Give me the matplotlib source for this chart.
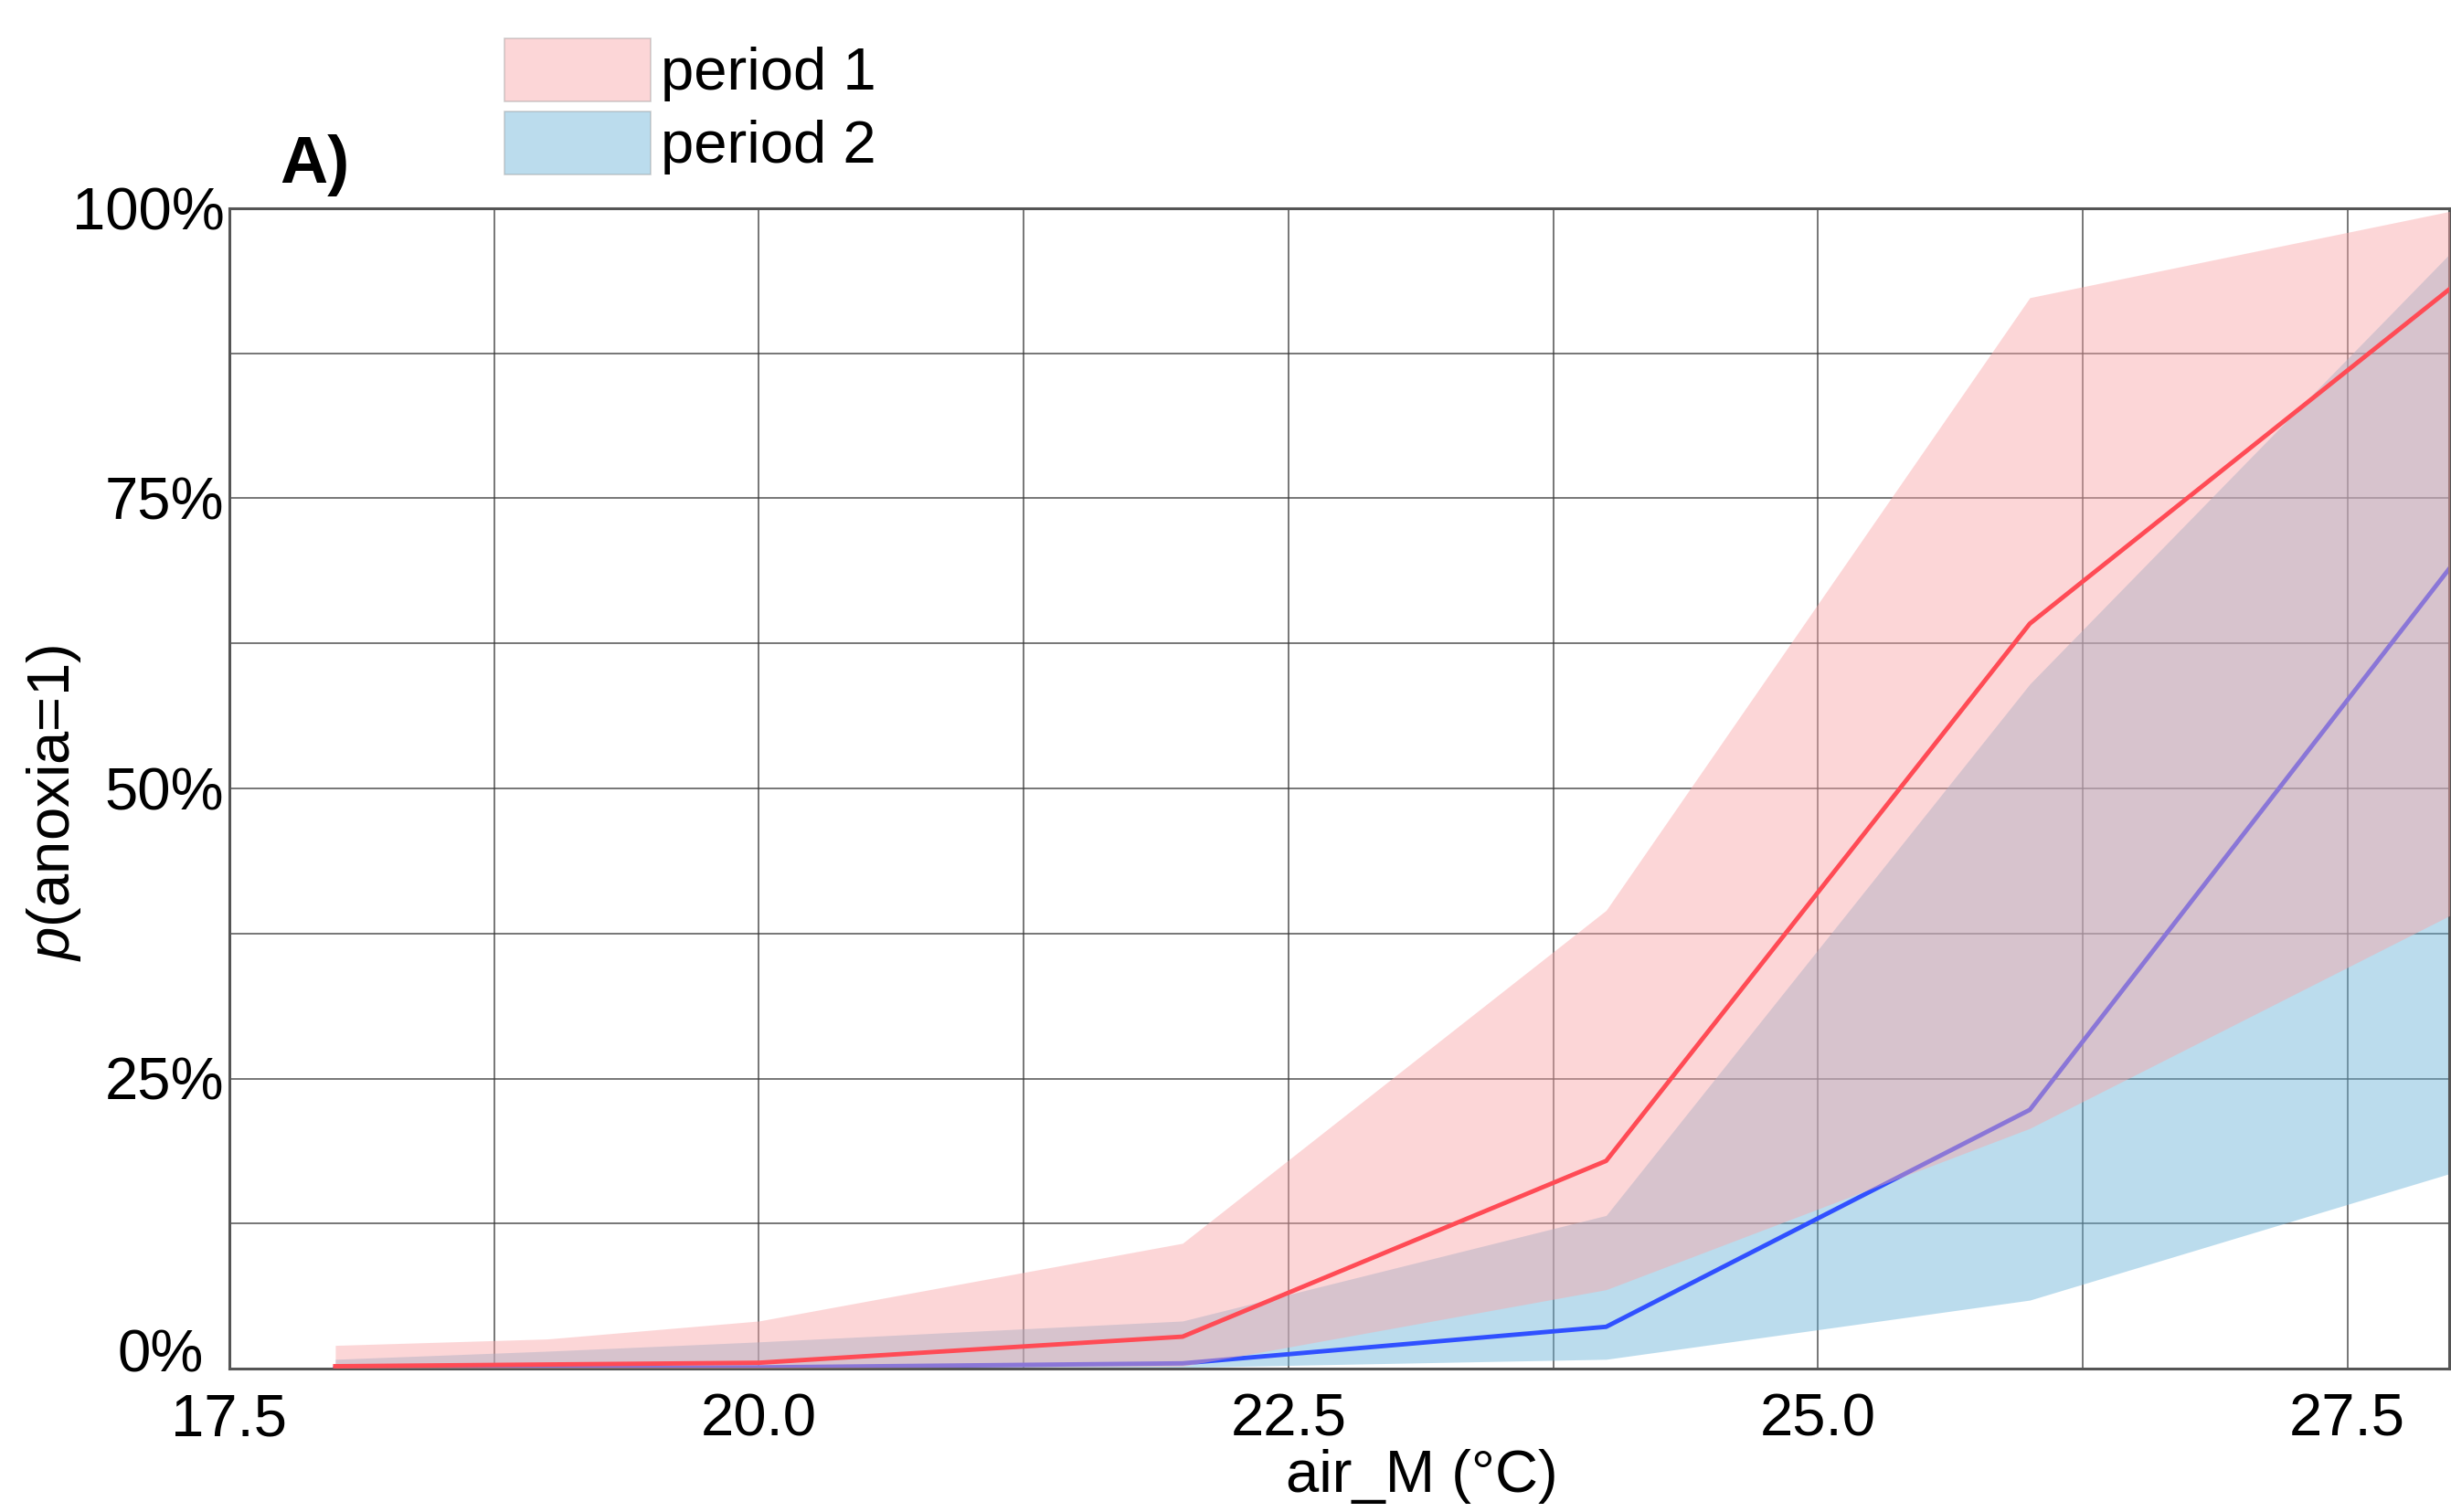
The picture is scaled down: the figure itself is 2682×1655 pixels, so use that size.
import numpy as np
import matplotlib
matplotlib.use("Agg")
import matplotlib.pyplot as plt
import matplotlib.transforms as mtransforms
from matplotlib.patches import Patch
from matplotlib.ticker import MultipleLocator

plt.rcParams["font.family"] = ["Liberation Sans", "DejaVu Sans"]
plt.rcParams["mathtext.fontset"] = "custom"
plt.rcParams["mathtext.it"] = "Liberation Sans:italic"
plt.rcParams["mathtext.rm"] = "Liberation Sans"

# air temperature (deg C) and predicted probability of anoxia (%)
air_temp = [18, 19, 20, 22, 24, 26, 28]

p1_mean = [0.2, 0.35, 0.5, 2.75, 17.9, 64.2, 93.3]
p1_lower = [0.05, 0.05, 0.05, 0.2, 6.8, 20.7, 39.2]
p1_upper = [2.0, 2.55, 4.1, 10.8, 39.5, 92.3, 99.8]

p2_mean = [0.0, 0.05, 0.1, 0.45, 3.6, 22.3, 69.4]
p2_lower = [0.0, 0.0, 0.0, 0.1, 0.8, 5.9, 16.9]
p2_upper = [0.8, 1.5, 2.3, 4.1, 13.2, 59.0, 96.4]

labels = ["period 1", "period 2"]

red_band = "#FAA6A8"
blue_band = "#6AB3D9"
band_alpha = 0.45

W, H = 2682, 1655
fig = plt.figure(figsize=(W / 100, H / 100), dpi=100)
ax = fig.add_axes([251 / W, 1 - 1498 / H, (2680 - 251) / W, (1498 - 228) / H])

# period 2 under period 1
ax.fill_between(air_temp, p2_lower, p2_upper, color=blue_band, alpha=band_alpha,
                linewidth=0, zorder=1)
ax.plot(air_temp, p2_mean, color="#3050FF", linewidth=3.5, zorder=2)
ax.fill_between(air_temp, p1_lower, p1_upper, color=red_band, alpha=band_alpha,
                linewidth=0, zorder=3)
ax.plot(air_temp, p1_mean, color="#FF4B55", linewidth=3.5, zorder=4)

ax.set_xlim(17.5, 27.98)
ax.set_ylim(0, 100)
ax.xaxis.set_major_locator(MultipleLocator(2.5))
ax.xaxis.set_minor_locator(MultipleLocator(1.25))
ax.yaxis.set_major_locator(MultipleLocator(25))
ax.yaxis.set_minor_locator(MultipleLocator(12.5))
# 0% is drawn separately below, it sits up and left in the original
ax.yaxis.set_major_formatter(lambda v, pos: "" if abs(v) < 1e-9 else f"{v:.0f}%")
ax.xaxis.set_major_formatter(lambda v, pos: f"{v:.1f}")

ax.set_axisbelow(True)
ax.grid(True, which="both", color="#3a3a3a", linewidth=1.3, alpha=0.75)
ax.tick_params(which="both", length=0, labelsize=47, colors="black")
ax.tick_params(axis="x", pad=19)
ax.tick_params(axis="y", pad=4)

for side in ["top", "bottom", "left", "right"]:
    ax.spines[side].set_color("#555555")
    ax.spines[side].set_linewidth(2.2)

shift = mtransforms.ScaledTranslation(0, -4 / 100, fig.dpi_scale_trans)
ax.text((223 - 251) / 2429, 0, "0%", fontsize=47, ha="right", va="baseline",
        transform=ax.get_yaxis_transform() + shift)

ax.set_xlabel("air_M (°C)", fontsize=47)
ax.xaxis.set_label_coords(0.537, -0.069)
ax.set_ylabel(r"$p$(anoxia=1)", fontsize=47)
ax.yaxis.set_label_coords(-0.066, 0.487)

fig.text(306 / W, 1 - 200 / H, "A)", fontsize=52, fontweight="bold",
         ha="left", va="baseline")

handles = [Patch(facecolor=red_band, alpha=band_alpha, edgecolor="#9a9a9a", linewidth=1.2),
           Patch(facecolor=blue_band, alpha=band_alpha, edgecolor="#9a9a9a", linewidth=1.2)]
fig.legend(handles, labels, loc="upper left", bbox_to_anchor=(552 / W, 1 - 42 / H),
           frameon=False, borderpad=0, borderaxespad=0, fontsize=47, handlelength=2.45,
           handleheight=1.25, handletextpad=0.17, labelspacing=0.16)

fig.savefig("out.png", dpi=100)
